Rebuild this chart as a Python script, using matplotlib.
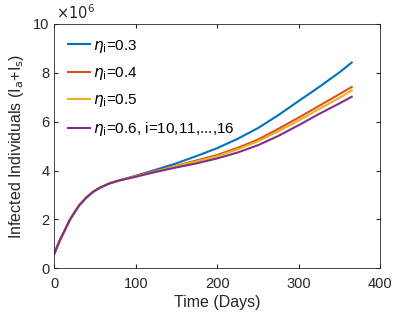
import numpy as np
import matplotlib
matplotlib.use("Agg")
import matplotlib.pyplot as plt

# time points (days) and infected counts (x1e6)
t = [0, 3, 7, 13, 19, 25, 31, 40, 48, 56, 68, 80,
     100, 125, 150, 175, 200, 225, 250, 275, 300, 325, 350, 365]
early = [0.6, 0.85, 1.16, 1.57, 1.98, 2.3, 2.6, 2.92, 3.14, 3.3, 3.48, 3.6]
eta03 = early + [3.79, 4.04, 4.3, 4.6, 4.92, 5.3, 5.74, 6.27, 6.85, 7.42, 8.02, 8.42]
eta04 = early + [3.77, 3.99, 4.2, 4.42, 4.64, 4.93, 5.27, 5.71, 6.17, 6.65, 7.13, 7.42]
eta05 = early + [3.76, 3.97, 4.18, 4.38, 4.59, 4.87, 5.2, 5.61, 6.05, 6.52, 6.98, 7.28]
eta06 = early + [3.75, 3.95, 4.13, 4.3, 4.5, 4.74, 5.04, 5.42, 5.86, 6.32, 6.75, 7.02]

labels = [r"$\eta_{\rm i}$=0.3", r"$\eta_{\rm i}$=0.4", r"$\eta_{\rm i}$=0.5",
          r"$\eta_{\rm i}$=0.6, i=10,11,...,16"]
colors = ["#0072BD", "#D95319", "#EDB120", "#7E2F8E"]

plt.rcParams['font.family'] = ['Liberation Sans', 'DejaVu Sans']
plt.rcParams['font.size'] = 10.5

fig = plt.figure(figsize=(4.2, 3.15), dpi=100)
ax = fig.add_axes([0.1293, 0.148, 0.776, 0.776])
for y, lab, c in zip([eta03, eta04, eta05, eta06], labels, colors):
    ax.plot(t, np.array(y) * 1e6, color=c, lw=1.5, label=lab)

ax.set_xlim(0, 400)
ax.set_ylim(0, 1e7)
ax.set_xticks([0, 100, 200, 300, 400])
ax.set_yticks([0, 2e6, 4e6, 6e6, 8e6, 1e7])
ax.set_yticklabels(["0", "2", "4", "6", "8", "10"])
ax.text(0.005, 1.008, r"$\times10^6$", transform=ax.transAxes, fontsize=10.5,
        color="#262626", va="bottom", ha="left")
ax.tick_params(direction="in", top=True, right=True, length=3, colors="#262626",
               labelsize=10.5)
ax.tick_params(axis="x", pad=6)
for s in ax.spines.values():
    s.set_color("#262626")
    s.set_linewidth(0.6)
ax.set_xlabel("Time (Days)", color="#262626", fontsize=11.5, labelpad=3)
ax.set_ylabel(r"Infected Individuals (I$_{\rm a}$+I$_{\rm s}$)", color="#262626",
              fontsize=11.5, labelpad=5)
ax.legend(loc="upper left", frameon=False, labelspacing=0.68, handlelength=1.45,
          handletextpad=0.15, borderaxespad=0.5, fontsize=11)
fig.savefig("out.png", dpi=100)
